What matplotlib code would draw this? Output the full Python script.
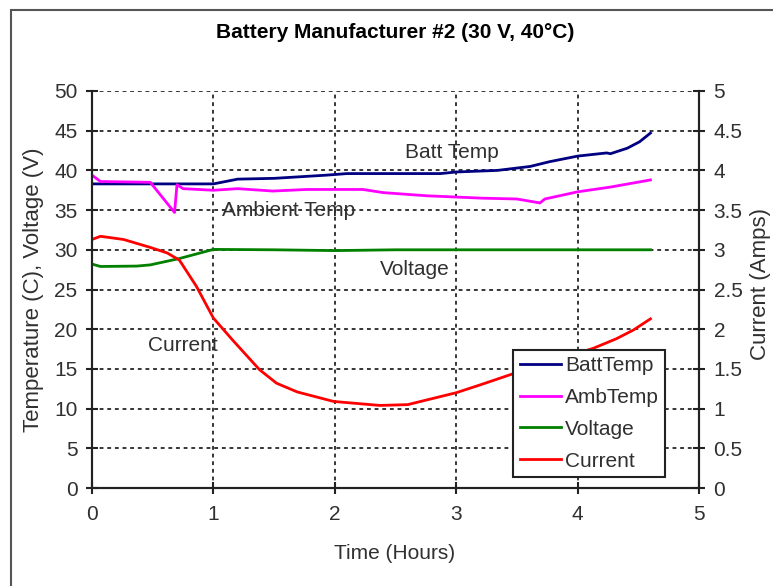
import matplotlib
matplotlib.use("Agg")
import matplotlib.pyplot as plt
from matplotlib.patches import Rectangle
from matplotlib.lines import Line2D

plt.rcParams['font.family'] = ['Liberation Sans', 'DejaVu Sans']

title = "Battery Manufacturer #2 (30 V, 40°C)"

batt_x = [0, 0.5, 1.0, 1.1, 1.2, 1.5, 1.93, 2.1, 2.5, 2.87, 3.0, 3.34, 3.61, 3.77, 4.0, 4.24, 4.27, 4.41, 4.51, 4.6]
batt_y = [38.3, 38.3, 38.3, 38.6, 38.9, 39.0, 39.4, 39.6, 39.6, 39.6, 39.8, 40.0, 40.5, 41.1, 41.8, 42.2, 42.1, 42.8, 43.6, 44.7]

amb_x = [0, 0.07, 0.48, 0.68, 0.70, 0.75, 1.0, 1.2, 1.49, 1.77, 2.23, 2.4, 2.76, 3.22, 3.5, 3.69, 3.73, 4.0, 4.27, 4.6]
amb_y = [39.4, 38.6, 38.5, 34.7, 38.2, 37.7, 37.5, 37.7, 37.4, 37.6, 37.6, 37.2, 36.8, 36.5, 36.4, 35.9, 36.4, 37.3, 37.9, 38.8]

volt_x = [0, 0.07, 0.37, 0.48, 0.72, 1.0, 1.5, 2.0, 2.5, 3.0, 3.5, 4.0, 4.6]
volt_y = [28.2, 27.9, 27.95, 28.1, 28.9, 30.05, 30.0, 29.9, 30.0, 30.0, 30.0, 30.0, 30.0]

curr_x = [0, 0.07, 0.26, 0.48, 0.62, 0.72, 0.86, 1.0, 1.16, 1.38, 1.52, 1.69, 1.99, 2.37, 2.6, 3.0, 3.2, 3.47, 3.8, 4.13, 4.32, 4.46, 4.6]
curr_y = [3.13, 3.17, 3.13, 3.03, 2.96, 2.87, 2.54, 2.14, 1.86, 1.49, 1.32, 1.21, 1.09, 1.04, 1.05, 1.20, 1.30, 1.44, 1.60, 1.76, 1.88, 1.99, 2.13]

left_ticks = [0, 5, 10, 15, 20, 25, 30, 35, 40, 45, 50]
right_ticks = [0, 0.5, 1, 1.5, 2, 2.5, 3, 3.5, 4, 4.5, 5]
right_labels = ["0", "0.5", "1", "1.5", "2", "2.5", "3", "3.5", "4", "4.5", "5"]
x_ticks = [0, 1, 2, 3, 4, 5]

series_names = ["BattTemp", "AmbTemp", "Voltage", "Current"]
colors = ["#000080", "#FF00FF", "#008000", "#FF0000"]

FS = 15
tc = '#303030'

fig = plt.figure(figsize=(7.73, 5.86), dpi=100)
fig.patch.set_facecolor('white')
# outer chart frame
fig.patches.append(Rectangle((11/773, -0.1), 1.2, 1 - 10/586 + 0.1, transform=fig.transFigure,
                             fill=False, edgecolor='#555555', linewidth=1.5))

ax = fig.add_axes([92/773, 1 - 488/586, (699 - 92)/773, (488 - 91)/586])
ax2 = ax.twinx()

ax.plot(batt_x, batt_y, color=colors[0], lw=2, label=series_names[0])
ax.plot(amb_x, amb_y, color=colors[1], lw=2, label=series_names[1])
ax.plot(volt_x, volt_y, color=colors[2], lw=2, label=series_names[2])
ax2.plot(curr_x, curr_y, color=colors[3], lw=2, label=series_names[3])

ax.set_xlim(0, 5)
ax.set_ylim(0, 50)
ax2.set_ylim(0, 5)
ax.set_xticks(x_ticks)
ax.set_yticks(left_ticks)
ax2.set_yticks(right_ticks)
ax2.set_yticklabels(right_labels)

for a in (ax, ax2):
    a.spines['top'].set_visible(False)
    for s in ('left', 'right', 'bottom'):
        a.spines[s].set_color('#222222')
        a.spines[s].set_linewidth(1.5)
    a.tick_params(direction='inout', length=9, width=1.5, colors='#222222', labelsize=FS, labelcolor=tc)
ax.tick_params(axis='x', pad=8)
ax.tick_params(axis='y', pad=6)
ax2.tick_params(axis='y', pad=6)

ax.grid(True, color='black', linestyle=(0, (2.5, 2.5)), linewidth=1.1)
ax.set_axisbelow(True)

ax.set_ylabel("Temperature (C), Voltage (V)", fontsize=FS + 1, color=tc)
ax.yaxis.label.set_verticalalignment('center')
ax.yaxis.set_label_coords(-0.0956, 0.5)
ax2.set_ylabel("Current (Amps)", fontsize=FS + 1, color=tc)
ax2.yaxis.label.set_verticalalignment('center')
ax2.yaxis.set_label_coords(1.102, 0.515)
ax.set_xlabel("Time (Hours)", fontsize=FS, color=tc)
ax.xaxis.label.set_verticalalignment('center')
ax.xaxis.set_label_coords(0.499, -0.164)
fig.text(0.5 * (92 + 699) / 773, 1 - 33/586, title, ha='center', va='center',
         fontsize=FS, fontweight='bold', color='black')

ax.text(2.58, 42.3, "Batt Temp", fontsize=FS, color=tc, va='center', ha='left')
ax.text(1.07, 34.9, "Ambient Temp", fontsize=FS, color=tc, va='center', ha='left')
ax.text(2.37, 27.5, "Voltage", fontsize=FS, color=tc, va='center', ha='left')
ax.text(0.46, 18.0, "Current", fontsize=FS, color=tc, va='center', ha='left')

handles = [Line2D([], [], color=c, lw=2) for c in colors]
leg = ax2.legend(handles, series_names, loc='lower left', bbox_to_anchor=(0.694, 0.028),
                 fontsize=FS, frameon=True, fancybox=False, edgecolor='#222222',
                 framealpha=1.0, handlelength=2.0, handletextpad=0.2, borderpad=0.3,
                 labelspacing=0.62, borderaxespad=0)
leg.get_frame().set_linewidth(1.5)
for t in leg.get_texts():
    t.set_color(tc)

fig.savefig("out.png", dpi=100, facecolor='white')
